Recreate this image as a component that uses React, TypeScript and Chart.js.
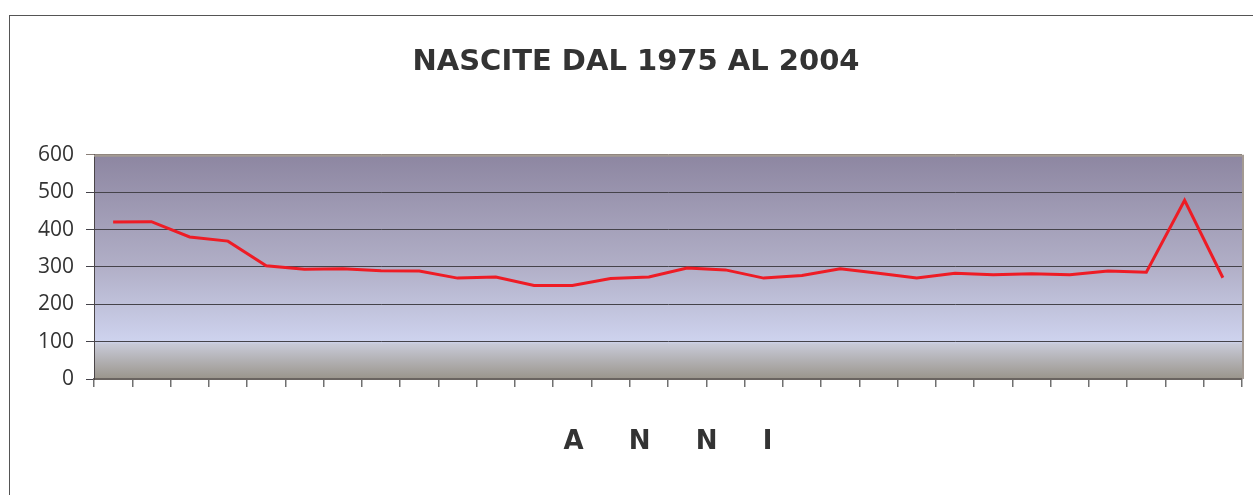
import React, { useEffect, useRef } from "react";
import { Chart, registerables } from "chart.js";

Chart.register(...registerables);

const years: string[] = [
  "1975", "1976", "1977", "1978", "1979", "1980", "1981", "1982", "1983", "1984",
  "1985", "1986", "1987", "1988", "1989", "1990", "1991", "1992", "1993", "1994",
  "1995", "1996", "1997", "1998", "1999", "2000", "2001", "2002", "2003", "2004",
];
const births: number[] = [
  420, 421, 380, 369, 303, 294, 295, 290, 289, 270,
  273, 250, 250, 269, 273, 297, 292, 270, 277, 295,
  283, 270, 283, 279, 282, 279, 289, 286, 478, 271,
];
const yTicks: number[] = [0, 100, 200, 300, 400, 500, 600];
const titleText = "NASCITE DAL 1975 AL 2004";
const xTitleText = "A     N     N     I";

const bgPlugin = {
  id: "plotBg",
  beforeDraw(chart: any) {
    const { ctx, chartArea } = chart;
    const { left, top, right, bottom } = chartArea;
    ctx.save();
    // outer frame
    ctx.strokeStyle = "#555555";
    ctx.lineWidth = 1;
    ctx.strokeRect(9.5, 15.5, 1300, 600);
    const y100 = chart.scales.y.getPixelForValue(100);
    const f = (y100 - top) / (bottom - top);
    const g = ctx.createLinearGradient(0, top, 0, bottom);
    g.addColorStop(0, "#8d86a1");
    g.addColorStop(0.5, "#b1afc7");
    g.addColorStop(f, "#ced3ee");
    g.addColorStop(Math.min(1, f + 0.012), "#c7c9d6");
    g.addColorStop(1, "#9a958b");
    ctx.fillStyle = g;
    ctx.fillRect(left, top, right - left, bottom - top);
    ctx.restore();
  },
  afterDatasetsDraw(chart: any) {
    const { ctx, chartArea } = chart;
    const { left, top, right, bottom } = chartArea;
    ctx.save();
    ctx.strokeStyle = "#a39a93";
    ctx.lineWidth = 2;
    ctx.beginPath();
    ctx.moveTo(left, top + 1);
    ctx.lineTo(right + 1, top + 1);
    ctx.lineTo(right + 1, bottom);
    ctx.stroke();
    ctx.restore();
  },
};

export default function App() {
  const ref = useRef<HTMLCanvasElement | null>(null);
  useEffect(() => {
    if (!ref.current) return;
    const chart = new Chart(ref.current, {
      type: "line",
      data: {
        labels: years,
        datasets: [
          {
            data: births,
            borderColor: "#ee1c25",
            borderWidth: 3,
            pointRadius: 0,
            tension: 0,
            fill: false,
          },
        ],
      },
      options: {
        animation: false,
        responsive: false,
        maintainAspectRatio: false,
        layout: { padding: { left: 30, right: 11, top: 0, bottom: 0 } },
        plugins: {
          legend: { display: false },
          tooltip: { enabled: false },
          title: {
            display: true,
            text: titleText,
            color: "#333333",
            font: { family: "'DejaVu Sans'", size: 29, weight: "bold", lineHeight: 1.2 },
            padding: { top: 45, bottom: 75 },
          },
        },
        scales: {
          x: {
            offset: true,
            grid: {
              offset: true,
              drawOnChartArea: false,
              drawTicks: true,
              tickLength: 8,
              color: "#707070",
              lineWidth: 1.5,
            },
            border: { display: true, color: "#6a6460", width: 2 },
            ticks: { display: false },
            title: {
              display: true,
              text: xTitleText,
              color: "#333333",
              font: { family: "'DejaVu Sans'", size: 26, weight: "bold", lineHeight: 1.2 },
              padding: { top: 0, bottom: 37 },
            },
            afterFit(scale: any) {
              scale.height = 116;
            },
          },
          y: {
            min: 0,
            max: 600,
            afterBuildTicks(scale: any) {
              scale.ticks = yTicks.map((v) => ({ value: v }));
            },
            grid: {
              color: (c: any) => (c.tick && c.tick.value === 600 ? "#8a7f78" : "#45434a"),
              lineWidth: 1,
              tickLength: 8,
              drawTicks: true,
            },
            border: { display: true, color: "#4a4548", width: 1 },
            ticks: {
              color: "#333333",
              padding: 12,
              font: { family: "'Open Sans'", size: 21 },
            },
            afterFit(scale: any) {
              scale.width = 64;
            },
          },
        },
      },
      plugins: [bgPlugin],
    });
    return () => chart.destroy();
  }, []);
  return (
    <div style={{ position: "fixed", left: 0, top: 0, width: 1253, height: 495, background: "#ffffff" }}>
      <canvas ref={ref} width={1253} height={495} style={{ width: 1253, height: 495, display: "block" }} />
    </div>
  );
}
